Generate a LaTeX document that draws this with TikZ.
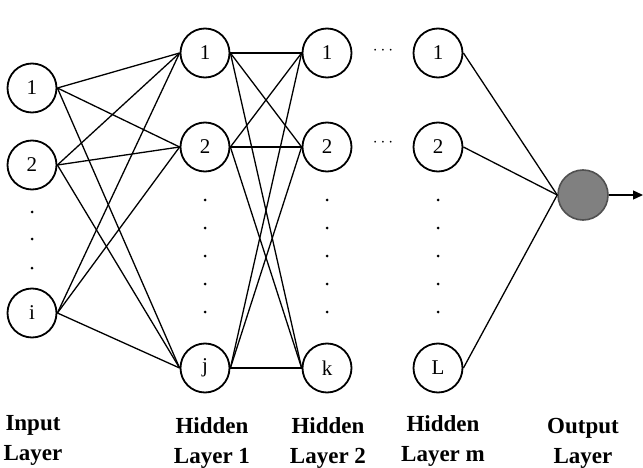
\documentclass[tikz,border=0pt]{standalone}
\usepackage{fontspec}
\setmainfont{Liberation Serif}
\usetikzlibrary{arrows.meta,positioning}
\definecolor{nnkgray}{RGB}{128,128,128}
\definecolor{nnkedge}{RGB}{80,80,80}

\begin{document}
\begin{tikzpicture}[x=1pt, y=-1pt,
    neuron/.style={circle, draw, line width=1.8pt, minimum size=49pt,
                   inner sep=0pt, font=\fontsize{21}{21}\selectfont},
    outneuron/.style={circle, draw=nnkedge, fill=nnkgray, line width=1.6pt,
                      minimum size=50pt},
    link/.style={line width=1.3pt},
    arrow/.style={-{Triangle[length=10pt,width=9pt]}, line width=1.3pt},
    layername/.style={align=center, anchor=north, inner sep=0pt,
                      font=\fontsize{23}{30}\selectfont\bfseries},
    gap/.style={inner sep=0pt, font=\fontsize{16}{16}\selectfont}
]
\useasboundingbox (0,0) rectangle (643,468);

% input layer
\node[neuron] (in1) at (32,88) {1};
\node[neuron] (in2) at (32,165) {2};
\node[neuron] (ini) at (32,313) {i};
% hidden layer 1
\node[neuron] (ha1) at (205,53) {1};
\node[neuron] (ha2) at (205,147) {2};
\node[neuron] (haj) at (205,368) {j};
% hidden layer 2
\node[neuron] (hb1) at (327,53) {1};
\node[neuron] (hb2) at (327,147) {2};
\node[neuron] (hbk) at (327,368) {k};
% hidden layer m
\node[neuron] (hm1) at (438,53) {1};
\node[neuron] (hm2) at (438,147) {2};
\node[neuron] (hmL) at (438,368) {L};
% output layer
\node[outneuron] (out) at (583,195) {};
\coordinate (res) at (643,195);

\node[gap] (skip1) at (383,51) {$\cdots$};
\node[gap] (skip2) at (383,143) {$\cdots$};

% vertical dots
\foreach \y in {212,239,268}
    \fill (32,\y) circle (1.5pt);
\foreach \x in {205,327,438}
    \foreach \y in {200,228,256,284,312}
        \fill (\x,\y) circle (1.5pt);

% connections
\foreach \a in {in1,in2,ini}
    \foreach \b in {ha1,ha2,haj}
        \draw[link] (\a.east) -- (\b.west);
\foreach \a in {ha1,ha2,haj}
    \foreach \b in {hb1,hb2,hbk}
        \draw[link] (\a.east) -- (\b.west);
\foreach \a in {hm1,hm2,hmL}
    \draw[link] (\a.east) -- (out.west);
\draw[arrow] (out.east) -- (res);

% layer names
\node[layername] (lin) at (33,415) {Input\\Layer};
\node[layername] (lha) at (212,417) {Hidden\\Layer 1};
\node[layername] (lhb) at (328,417) {Hidden\\Layer 2};
\node[layername] (lhm) at (443,415) {Hidden\\Layer m};
\node[layername] (lout) at (583,418) {Output\\Layer};
\end{tikzpicture}
\end{document}
